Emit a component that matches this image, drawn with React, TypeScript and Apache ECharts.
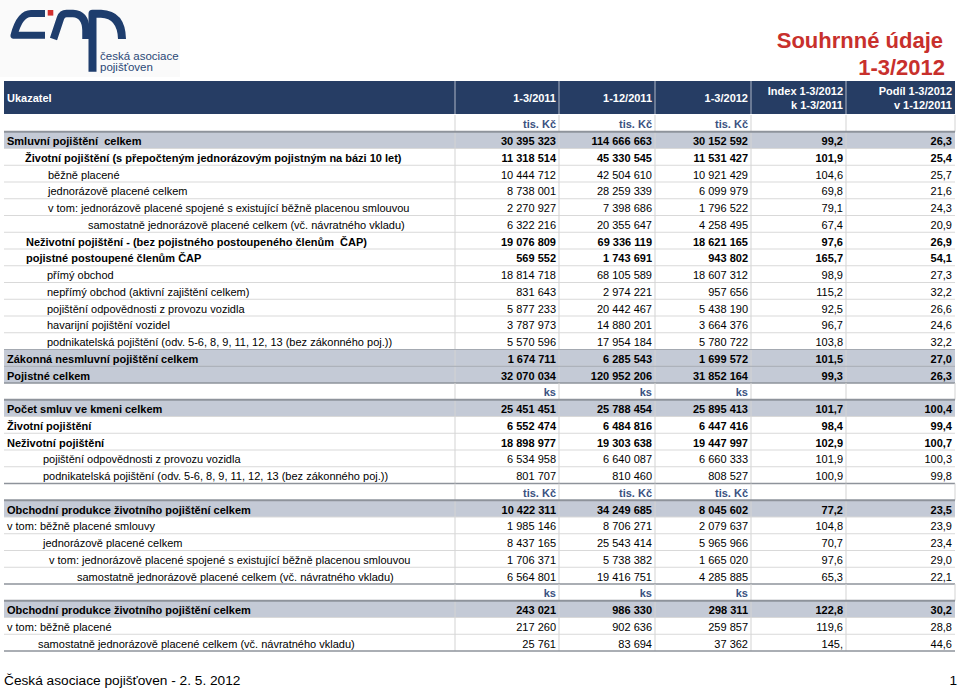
import React, { useEffect, useRef } from 'react';
import * as echarts from 'echarts';

// ---------------- data ----------------
const TITLE = ['Souhrnné údaje', '1-3/2012'];
const LOGO_TEXT = ['česká asociace', 'pojišťoven'];
const HEADER_FIRST = 'Ukazatel';
const COLUMN_HEADERS: string[][] = [
  ['1-3/2011'],
  ['1-12/2011'],
  ['1-3/2012'],
  ['Index 1-3/2012', 'k 1-3/2011'],
  ['Podíl 1-3/2012', 'v 1-12/2011'],
];
const FOOTER = 'Česká asociace pojišťoven - 2. 5. 2012';
const PAGE_NO = '1';

const ROW_LABELS = [
  '',
  'Smluvní pojištění  celkem',
  'Životní pojištění (s přepočteným jednorázovým pojistným na bázi 10 let)',
  'běžně placené',
  'jednorázově placené celkem',
  'v tom: jednorázově placené spojené s existující běžně placenou smlouvou',
  'samostatně jednorázově placené celkem (vč. návratného vkladu)',
  'Neživotní pojištění - (bez pojistného postoupeného členům  ČAP)',
  'pojistné postoupené členům ČAP',
  'přímý obchod',
  'nepřímý obchod (aktivní zajištění celkem)',
  'pojištění odpovědnosti z provozu vozidla',
  'havarijní pojištění vozidel',
  'podnikatelská pojištění (odv. 5-6, 8, 9, 11, 12, 13 (bez zákonného poj.))',
  'Zákonná nesmluvní pojištění celkem',
  'Pojistné celkem',
  '',
  'Počet smluv ve kmeni celkem',
  'Životní pojištění',
  'Neživotní pojištění',
  'pojištění odpovědnosti z provozu vozidla',
  'podnikatelská pojištění (odv. 5-6, 8, 9, 11, 12, 13 (bez zákonného poj.))',
  '',
  'Obchodní produkce životního pojištění celkem',
  'v tom: běžně placené smlouvy',
  'jednorázově placené celkem',
  'v tom: jednorázově placené spojené s existující běžně placenou smlouvou',
  'samostatně jednorázově placené celkem (vč. návratného vkladu)',
  '',
  'Obchodní produkce životního pojištění celkem',
  'v tom: běžně placené',
  'samostatně jednorázově placené celkem (vč. návratného vkladu)',
];

// unit = unit row, total = grey total row, bold = bold row, plain = normal row
const ROW_KINDS = [
  'unit', 'total', 'bold', 'plain', 'plain', 'plain', 'plain', 'bold', 'bold', 'plain',
  'plain', 'plain', 'plain', 'plain', 'total', 'total', 'unit', 'total', 'bold', 'bold',
  'plain', 'plain', 'unit', 'total', 'plain', 'plain', 'plain', 'plain', 'unit', 'total',
  'plain', 'plain',
];

const UNITS = [
  'tis. Kč', '', '', '', '', '', '', '', '', '', '', '', '', '', '', '',
  'ks', '', '', '', '', '',
  'tis. Kč', '', '', '', '', '',
  'ks', '', '', '',
];

const V_Q1_2011 = [
  null, 30395323, 11318514, 10444712, 8738001, 2270927, 6322216, 19076809, 569552, 18814718,
  831643, 5877233, 3787973, 5570596, 1674711, 32070034, null, 25451451, 6552474, 18898977,
  6534958, 801707, null, 10422311, 1985146, 8437165, 1706371, 6564801, null, 243021,
  217260, 25761,
];
const V_FY_2011 = [
  null, 114666663, 45330545, 42504610, 28259339, 7398686, 20355647, 69336119, 1743691, 68105589,
  2974221, 20442467, 14880201, 17954184, 6285543, 120952206, null, 25788454, 6484816, 19303638,
  6640087, 810460, null, 34249685, 8706271, 25543414, 5738382, 19416751, null, 986330,
  902636, 83694,
];
const V_Q1_2012 = [
  null, 30152592, 11531427, 10921429, 6099979, 1796522, 4258495, 18621165, 943802, 18607312,
  957656, 5438190, 3664376, 5780722, 1699572, 31852164, null, 25895413, 6447416, 19447997,
  6660333, 808527, null, 8045602, 2079637, 5965966, 1665020, 4285885, null, 298311,
  259857, 37362,
];
const INDEX_VALUES = [
  '', '99,2', '101,9', '104,6', '69,8', '79,1', '67,4', '97,6', '165,7', '98,9',
  '115,2', '92,5', '96,7', '103,8', '101,5', '99,3', '', '101,7', '98,4', '102,9',
  '101,9', '100,9', '', '77,2', '104,8', '70,7', '97,6', '65,3', '', '122,8',
  '119,6', '145,',
];
const SHARE_VALUES = [
  '', '26,3', '25,4', '25,7', '21,6', '24,3', '20,9', '26,9', '54,1', '27,3',
  '32,2', '26,6', '24,6', '32,2', '27,0', '26,3', '', '100,4', '99,4', '100,7',
  '100,3', '99,8', '', '23,5', '23,9', '23,4', '29,0', '22,1', '', '30,2',
  '28,8', '44,6',
];

// ---------------- layout / style ----------------
const LABEL_INDENT = [
  0, 7, 25, 48, 48, 48, 88, 26, 26, 47,
  47, 47, 47, 47, 7, 7, 0, 7, 7, 7,
  43, 43, 0, 7, 7, 43, 49, 77, 0, 7,
  7, 38,
];
const EDGES = [4, 455, 559, 655, 751, 846, 955];
const FONT = '"Liberation Sans", Arial, Helvetica, sans-serif';
const font = (bold: boolean, size: number) => `${bold ? 'bold ' : ''}${size}px ${FONT}`;
const NAVY = '#263D64';
const GREY_ROW = '#C4CAD6';
const GRID = '#D9D9D9';
const DIVIDER = '#D3D3D3';
const DARK = '#8E939B';
const UNIT_COLOR = '#3A5281';
const RED = '#C8302C';
const LOGO_BLUE = '#1E3D6D';

const fmt = (v: number | null) =>
  v === null ? '' : String(v).replace(/\B(?=(\d{3})+(?!\d))/g, ' ');

const txt = (text: string, x: number, y: number, align: string, f: string, fill: string) => ({
  type: 'text',
  style: {
    text,
    x,
    y,
    align,
    textAlign: align,
    verticalAlign: 'middle',
    textVerticalAlign: 'middle',
    font: f,
    fill,
  },
});

const App: React.FC = () => {
  const ref = useRef<HTMLDivElement>(null);

  useEffect(() => {
    if (!ref.current) return;
    echarts.graphic.registerShape(
      'capC',
      echarts.graphic.extendPath('M45 13.5 L31 13.5 C22 13.5 17 24 14 35.3 L45 35.3', {})
    );
    echarts.graphic.registerShape(
      'capA',
      echarts.graphic.extendPath('M53.5 39 L60.5 18 Q62 13.5 66.5 13.5 L73 13.5 Q85.5 14 86 30 L86 39', {})
    );
    echarts.graphic.registerShape(
      'capP',
      echarts.graphic.extendPath('M92.5 71.7 L92.5 13.7 L101 13.7 Q121.5 14.5 122 39', {})
    );

    const chart = echarts.init(ref.current, undefined, { renderer: 'svg' });

    const renderItem = (_params: any, api: any) => {
      const i = api.value(1) as number;
      const cy = api.coord([0, i])[1];
      const h = api.size([0, 1])[1];
      const top = cy - h / 2;
      const bot = cy + h / 2;
      const X = (v: number) => api.coord([v, i])[0];
      const kind = ROW_KINDS[i];
      const bold = kind === 'total' || kind === 'bold';
      const L = X(EDGES[0]);
      const R = X(EDGES[6]);
      const children: any[] = [];

      if (kind === 'total') {
        children.push({ type: 'rect', shape: { x: L, y: top, width: R - L, height: h }, style: { fill: GREY_ROW } });
      }
      const vEdges = kind === 'unit' ? EDGES.slice(1) : EDGES.slice(1, 6);
      vEdges.forEach((e) =>
        children.push({
          type: 'line',
          shape: { x1: X(e), y1: top, x2: X(e), y2: bot },
          style: { stroke: DIVIDER, lineWidth: 1 },
        })
      );
      if (kind === 'total') {
        const afterUnit = ROW_KINDS[i - 1] === 'unit';
        children.push({
          type: 'line',
          shape: { x1: L, y1: top, x2: R, y2: top },
          style: { stroke: afterUnit ? DARK : '#A4A9B1', lineWidth: afterUnit ? 2 : 1 },
        });
      }
      if (kind !== 'unit') {
        const sectionEnd = i === ROW_KINDS.length - 1 || ROW_KINDS[i + 1] === 'unit';
        children.push({
          type: 'line',
          shape: { x1: L, y1: bot, x2: R, y2: bot },
          style: { stroke: sectionEnd ? DARK : GRID, lineWidth: sectionEnd ? 1.5 : 1 },
        });
      }

      const ty = cy + 1;
      if (kind === 'unit') {
        for (let c = 0; c < 3; c++) {
          children.push(txt(UNITS[i], X(EDGES[c + 2]) - 3, ty, 'right', font(true, 11), UNIT_COLOR));
        }
      } else {
        children.push(txt(ROW_LABELS[i], X(LABEL_INDENT[i]), ty, 'left', font(bold, 11), '#000'));
        const vals = [fmt(V_Q1_2011[i]), fmt(V_FY_2011[i]), fmt(V_Q1_2012[i]), INDEX_VALUES[i], SHARE_VALUES[i]];
        vals.forEach((v, c) => {
          const xr = c === 4 ? X(EDGES[6]) - 3 : X(EDGES[c + 2]) - 3;
          children.push(txt(v, xr, ty, 'right', font(bold, 11), '#000'));
        });
      }
      return { type: 'group', children };
    };

    const headerEls: any[] = [
      { type: 'rect', shape: { x: EDGES[0], y: 81, width: EDGES[6] - EDGES[0], height: 33 }, style: { fill: NAVY } },
      ...EDGES.slice(1, 6).map((e) => ({
        type: 'line',
        shape: { x1: e, y1: 81, x2: e, y2: 114 },
        style: { stroke: '#AEB7C6', lineWidth: 1 },
      })),
      txt(HEADER_FIRST, 7, 97.5, 'left', font(true, 11), '#fff'),
    ];
    COLUMN_HEADERS.forEach((lines, c) => {
      const xr = c === 4 ? EDGES[6] - 3 : EDGES[c + 2] - 3;
      if (lines.length === 1) {
        headerEls.push(txt(lines[0], xr, 98, 'right', font(true, 11), '#fff'));
      } else {
        headerEls.push(txt(lines[0], xr, 91, 'right', font(true, 11), '#fff'));
        headerEls.push(txt(lines[1], xr, 105, 'right', font(true, 11), '#fff'));
      }
    });

    const logoEls: any[] = [
      { type: 'rect', shape: { x: 0, y: 0, width: 180, height: 77 }, style: { fill: '#FAFAFA' } },
      { type: 'capC', style: { stroke: LOGO_BLUE, lineWidth: 7, fill: 'none', lineJoin: 'round' } },
      { type: 'capA', style: { stroke: LOGO_BLUE, lineWidth: 7.5, fill: 'none', lineJoin: 'round' } },
      { type: 'capP', style: { stroke: LOGO_BLUE, lineWidth: 8, fill: 'none', lineJoin: 'round' } },
      { type: 'rect', shape: { x: 47.7, y: 10, width: 5.6, height: 5.6 }, style: { fill: '#D2302F' } },
      txt(LOGO_TEXT[0], 100, 55.5, 'left', font(false, 11.5), '#2A4876'),
      txt(LOGO_TEXT[1], 100, 66.5, 'left', font(false, 11.5), '#2A4876'),
    ];

    const titleEls: any[] = [
      txt(TITLE[0], 943, 40, 'right', font(true, 22), RED),
      txt(TITLE[1], 945, 67.5, 'right', font(true, 22), RED),
    ];

    const footerEls: any[] = [
      txt(FOOTER, 4, 680, 'left', font(false, 13.7), '#000'),
      txt(PAGE_NO, 957, 680, 'right', font(false, 13.7), '#000'),
    ];

    chart.setOption({
      animation: false,
      backgroundColor: '#fff',
      grid: { left: 0, right: 0, top: 115, bottom: 37, containLabel: false },
      xAxis: { type: 'value', min: 0, max: 960, show: false },
      yAxis: {
        type: 'category',
        inverse: true,
        show: false,
        data: ROW_LABELS.map((_, i) => String(i)),
      },
      graphic: [...logoEls, ...titleEls, ...headerEls, ...footerEls],
      series: [
        {
          type: 'custom',
          renderItem,
          clip: false,
          silent: true,
          encode: { x: 0, y: 1 },
          data: ROW_LABELS.map((_, i) => [0, i]),
        },
      ],
    });

    return () => chart.dispose();
  }, []);

  return (
    <div
      ref={ref}
      style={{ position: 'fixed', left: 0, top: 0, width: 960, height: 688, background: '#fff' }}
    />
  );
};

export default App;
